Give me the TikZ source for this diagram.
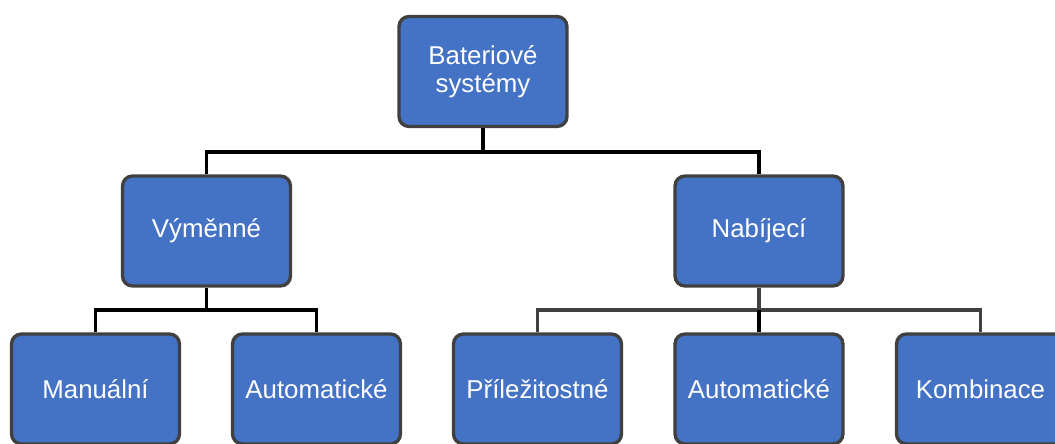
\documentclass[tikz,border=0pt]{standalone}
\usepackage{fontspec}
\setmainfont{Liberation Sans}
\definecolor{boxblue}{HTML}{4472C4}
\definecolor{boxedge}{HTML}{404040}
\tikzset{
	box/.style={draw=boxedge,fill=boxblue,line width=1.9pt,rounded corners=0.2cm,
		minimum width=3.36cm,minimum height=2.2cm,text=white,align=center,
		font=\fontsize{14.7}{16.3}\selectfont},
	conn/.style={line width=1.8pt,black},
	conngray/.style={line width=1.8pt,boxedge}
}

\begin{document}
\begin{tikzpicture}[x=0.02cm,y=-0.02cm]
			\useasboundingbox (0,0) rectangle (1055,443);
			\clip (0,0) rectangle (1055,443);
			\node[box] (bat) at (483,71.5) {Bateriové\\systémy};
			\node[box] (vym) at (206.5,231) {Výměnné};
			\node[box] (nab) at (759,231) {Nabíjecí};
			\node[box] (man) at (95.5,389) {Manuální};
			\node[box] (aut1) at (316.5,389) {Automatické};
			\node[box] (pril) at (537.5,389) {Příležitostné};
			\node[box] (aut2) at (759,389) {Automatické};
			\node[box] (komb) at (980.5,389) {Kombinace};
			\coordinate (j1) at (483,152);
			\coordinate (j2) at (206.5,310);
			\coordinate (j3) at (759,310);
			\draw[conn] (bat.south) -- (j1);
			\draw[conn] (vym.north) |- (j1) -| (nab.north);
			\draw[conn] (vym.south) -- (j2);
			\draw[conn] (man.north) |- (j2) -| (aut1.north);
			\draw[conngray] (nab.south) -- (j3);
			\draw[conngray] (pril.north) |- (j3) -| (komb.north);
			\draw[conn] (j3) -- (aut2.north);
		\end{tikzpicture}
\end{document}
